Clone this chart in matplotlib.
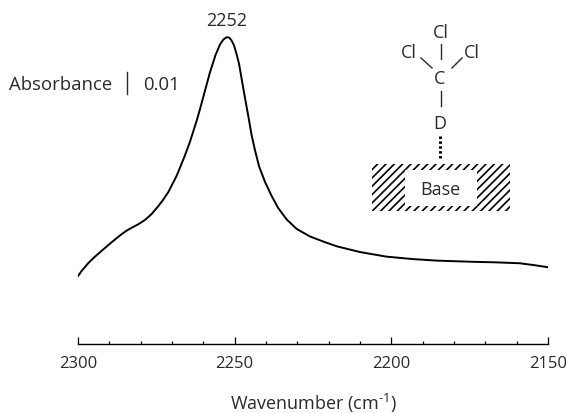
import matplotlib
matplotlib.use('Agg')
import matplotlib.pyplot as plt
from matplotlib.patches import Rectangle

wavenumber = [2300, 2298.8, 2296.7, 2294.6, 2292.4, 2290.3, 2288.2, 2286.1, 2284.5, 2282.9,
              2280.8, 2278.6, 2276.5, 2274.4, 2272.8, 2271.2, 2268.5, 2265.9, 2264.3, 2262.1,
              2261.1, 2259.5, 2257.9, 2256.1, 2254.7, 2253.6, 2252.5, 2251.7, 2251, 2250.2,
              2249.4, 2248.6, 2247.8, 2246.7, 2245.6, 2244.6, 2243.5, 2242.2, 2240.3, 2238.2,
              2236.1, 2233.4, 2230.2, 2226, 2221.4, 2217.4, 2210, 2201.5, 2193.1, 2185.5,
              2174.9, 2166.4, 2159, 2154.2, 2150]
absorbance = [.0309, .0333, .0368, .0397, .0424, .0450, .0475, .0499, .0515, .0528,
              .0544, .0564, .0591, .0626, .0656, .0690, .0765, .0856, .0918, .1016,
              .1066, .1150, .1234, .1314, .1361, .1384, .1395, .1392, .1380, .1357,
              .1318, .1273, .1207, .1118, .1032, .0950, .0880, .0807, .0736, .0673,
              .0618, .0566, .0523, .0489, .0464, .0444, .0418, .0397, .0386, .0379,
              .0374, .0371, .0367, .0358, .0349]
major_ticks = [2300, 2250, 2200, 2150]
minor_ticks = [2290, 2280, 2270, 2260, 2240, 2230, 2220, 2210, 2190, 2180, 2170, 2160]

plt.rcParams['font.family'] = ['Open Sans', 'DejaVu Sans']
plt.rcParams['mathtext.fontset'] = 'custom'
plt.rcParams['mathtext.rm'] = 'Open Sans'
plt.rcParams['mathtext.default'] = 'regular'
plt.rcParams['hatch.linewidth'] = 1.2

W, H = 566, 414
TXT = '#2a2a2a'
fig = plt.figure(figsize=(W / 100, H / 100), dpi=100)

# spectrum axes, only the bottom spine is shown
ax = fig.add_axes([78 / W, 1 - 345 / H, 470 / W, 345 / H])
ax.plot(wavenumber, absorbance, color='black', lw=1.4, solid_joinstyle='round')
ax.set_xlim(2300, 2150)
ax.set_ylim(0, 345 / 2200)
ax.patch.set_alpha(0)
for s in ['top', 'left', 'right']:
    ax.spines[s].set_visible(False)
ax.spines['bottom'].set_linewidth(1.0)
ax.set_yticks([])
ax.set_xticks(major_ticks)
ax.set_xticks(minor_ticks, minor=True)
ax.tick_params(axis='x', which='major', direction='in', length=5, width=0.9, pad=8,
               labelsize=12, labelcolor=TXT)
ax.tick_params(axis='x', which='minor', direction='in', length=2.5, width=0.9)
ax.set_xlabel(r'Wavenumber (cm$^{\text{-}1}$)', fontsize=13, color=TXT, labelpad=14.5)

# overlay in pixel coordinates for the annotations and the molecule sketch
ov = fig.add_axes([0, 0, 1, 1])
ov.set_xlim(0, W)
ov.set_ylim(H, 0)
ov.axis('off')


def label(x, y, s, size=13):
    ov.text(x, y, s, fontsize=size, color=TXT, ha='center', va='center')


label(227, 21, '2252')
label(60.5, 85, 'Absorbance', 13.3)
label(161, 85, '0.01', 13.3)
ov.plot([127, 127], [73, 95], color=TXT, lw=1.0)

label(441, 33, 'Cl')
label(409, 53, 'Cl')
label(472, 53, 'Cl')
label(440, 79, 'C')
label(440, 124, 'D')
label(440, 190, 'Base')

ov.plot([441, 441], [45, 60], color=TXT, lw=1.0)
ov.plot([421, 432], [59, 69], color=TXT, lw=1.0)
ov.plot([462, 452], [59, 69], color=TXT, lw=1.0)
ov.plot([441, 441], [92, 107], color=TXT, lw=1.0)
ov.plot([439.5, 439.5], [137, 161], color='black', lw=2.2, ls=(0, (0.8, 0.8)))

ov.add_patch(Rectangle((372, 165), 138, 47, facecolor='white', edgecolor='black',
                       hatch='////', lw=0))
ov.add_patch(Rectangle((405, 170.5), 72, 36, facecolor='white', edgecolor='none'))

fig.savefig('out.png', dpi=100)
